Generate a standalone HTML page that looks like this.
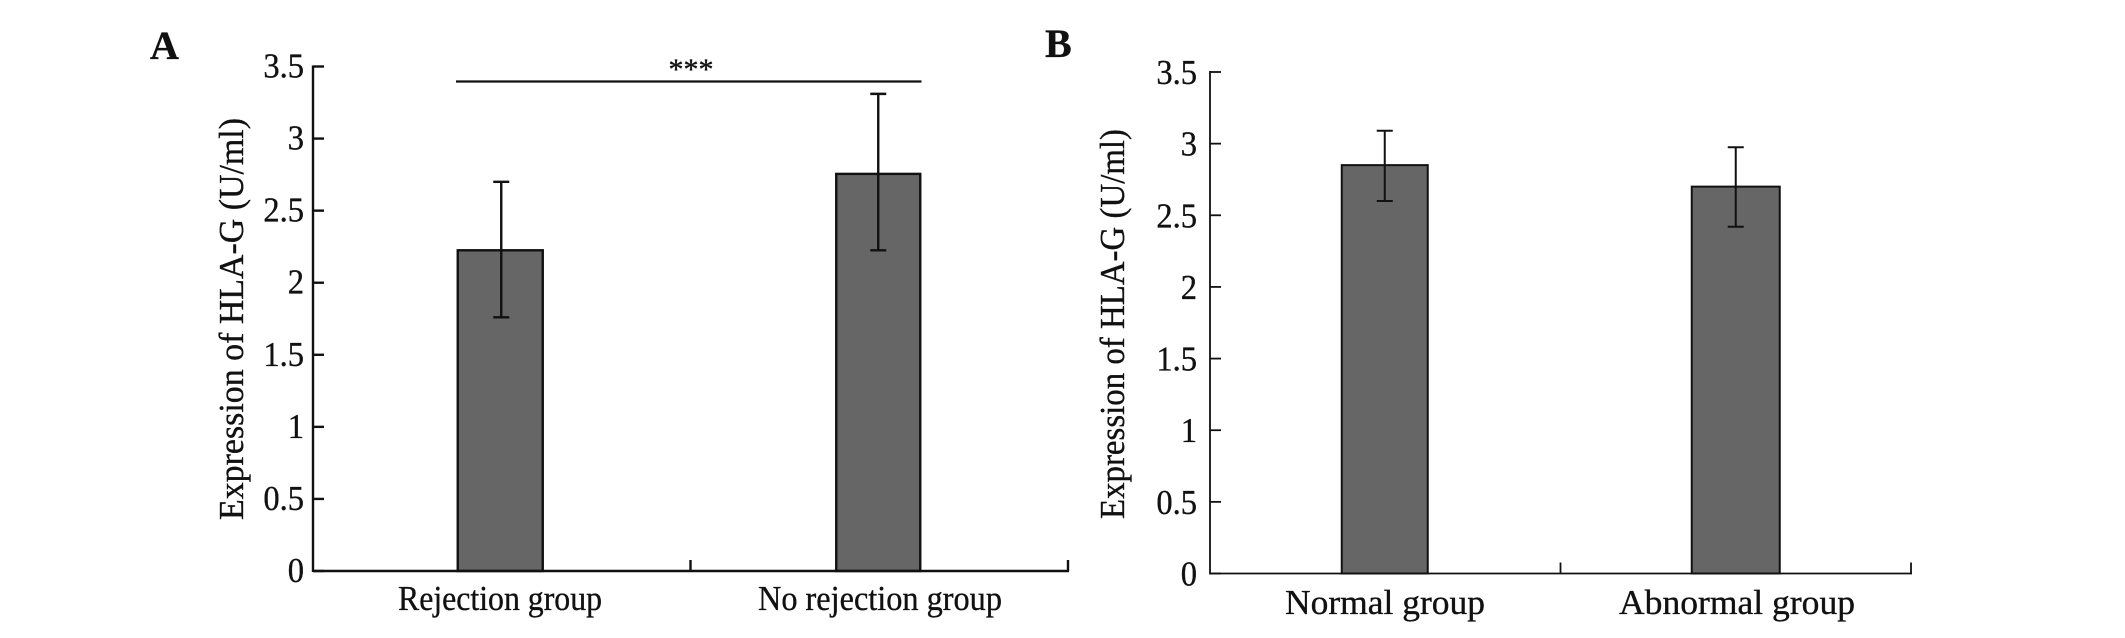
<!DOCTYPE html>
<html lang="en">
<head>
<meta charset="utf-8">
<title>Expression of HLA-G</title>
<style>
html,body{margin:0;padding:0;background:#fff;width:2125px;height:638px;overflow:hidden}
svg{display:block}
text{font-family:"Liberation Serif",serif;fill:#111;stroke:#111;stroke-width:0.35px}
</style>
</head>
<body>
<svg id="chart" xmlns="http://www.w3.org/2000/svg" width="2125" height="638" viewBox="0 0 2125 638"></svg>
<script>
const yTickLabels = ["0", "0.5", "1", "1.5", "2", "2.5", "3", "3.5"];
const yTickValues = [0, 0.5, 1, 1.5, 2, 2.5, 3, 3.5];
const categoriesA = ["Rejection group", "No rejection group"];
const meansA = [2.225, 2.755];
const errorUpperA = [2.70, 3.31];
const errorLowerA = [1.76, 2.225];
const categoriesB = ["Normal group", "Abnormal group"];
const meansB = [2.85, 2.70];
const errorUpperB = [3.09, 2.975];
const errorLowerB = [2.60, 2.42];

const svg = document.getElementById('chart');
const NS = 'http://www.w3.org/2000/svg';

function make(parent, tag, attrs, name) {
  const el = document.createElementNS(NS, tag);
  for (const k in attrs) el.setAttribute(k, attrs[k]);
  
  
  parent.appendChild(el);
  return el;
}

function drawPanel(cfg) {
  const g = make(svg, 'g', {}, 'panel-' + cfg.id);
  const yScale = v => cfg.y0 + (cfg.y35 - cfg.y0) * v / 3.5;
  const band = (cfg.x1 - cfg.x0) / cfg.categories.length;
  const xCenter = i => cfg.x0 + band * (i + 0.5);
  const ink = '#111';

  // bars
  cfg.categories.forEach((c, i) => {
    const cx = xCenter(i) + cfg.barOffset[i];
    make(g, 'rect', {
      x: cx - cfg.barW[i] / 2, y: yScale(cfg.means[i]),
      width: cfg.barW[i], height: yScale(0) - yScale(cfg.means[i]),
      fill: '#666', stroke: ink, 'stroke-width': cfg.barStroke
    }, 'bar-' + c.toLowerCase().replace(/ /g, '-'));
  });

  // error bars
  cfg.categories.forEach((c, i) => {
    const cx = xCenter(i) + cfg.barOffset[i] + cfg.errOffset[i];
    const hi = yScale(cfg.upper[i]), lo = yScale(cfg.lower[i]);
    const d = `M${cx} ${hi}V${lo}M${cx - 8} ${hi}H${cx + 8}M${cx - 8} ${lo}H${cx + 8}`;
    make(g, 'path', {d: d, fill: 'none', stroke: ink, 'stroke-width': cfg.errW}, 
      'error-bar-' + c.toLowerCase().replace(/ /g, '-'));
  });

  // axes
  make(g, 'line', {x1: cfg.x0, x2: cfg.x0, y1: yScale(3.5) - 1, y2: yScale(0) + 1, stroke: ink, 'stroke-width': cfg.axisW}, 'y-axis-line');
  make(g, 'line', {x1: cfg.x0, x2: cfg.x1 + 1, y1: yScale(0), y2: yScale(0), stroke: ink, 'stroke-width': cfg.axisW}, 'x-axis-line');

  // y ticks
  yTickValues.forEach((v, i) => {
    make(g, 'line', {x1: cfg.x0, x2: cfg.x0 + 11, y1: yScale(v), y2: yScale(v), stroke: ink, 'stroke-width': cfg.axisW}, 'y-tick-' + yTickLabels[i]);
    const t = make(g, 'text', {
      transform: `translate(${cfg.x0 - cfg.labelGap} ${yScale(v) + cfg.labelDy}) scale(0.93 1)`,
      'text-anchor': 'end', 'font-size': 35
    }, 'y-tick-label-' + yTickLabels[i]);
    t.textContent = yTickLabels[i];
  });

  // x ticks
  cfg.categories.forEach((c, i) => {
    const x = cfg.x0 + band * (i + 1);
    make(g, 'line', {x1: x, x2: x, y1: yScale(0), y2: yScale(0) - 11, stroke: ink, 'stroke-width': cfg.axisW}, 'x-tick-' + (i + 1));
  });

  // x labels
  cfg.categories.forEach((c, i) => {
    const t = make(g, 'text', {
      x: cfg.labelX[i], y: cfg.labelY, 'text-anchor': 'middle', 'font-size': 35,
      textLength: cfg.labelW[i], lengthAdjust: 'spacingAndGlyphs'
    }, 'x-label-' + c.toLowerCase().replace(/ /g, '-'));
    t.textContent = c;
  });

  // y title
  const yt = make(g, 'text', {
    transform: `translate(${cfg.titleX} ${cfg.titleYC}) rotate(-90)`,
    'text-anchor': 'middle', 'font-size': 35,
    textLength: cfg.titleLen, lengthAdjust: 'spacingAndGlyphs'
  }, 'y-axis-title');
  yt.textContent = 'Expression of HLA-G (U/ml)';

  // panel letter
  const pl = make(g, 'text', {x: cfg.letterX, y: cfg.letterY, 'font-size': 40, 'font-weight': 'bold'}, 'panel-label-' + cfg.id);
  pl.textContent = cfg.id;

  return yScale;
}

drawPanel({
  id: 'A', x0: 313, x1: 1068, y0: 571, y35: 66.5,
  categories: categoriesA, means: meansA, upper: errorUpperA, lower: errorLowerA,
  barW: [85, 84], barStroke: 2.4, axisW: 2.4, errW: 2.4, barOffset: [-1.5, -1], errOffset: [1, 0],
  labelGap: 9, labelDy: 11, labelX: [500, 880], labelY: 610, labelW: [204, 244],
  titleX: 243, titleYC: 319, titleLen: 402, letterX: 150, letterY: 59
});

drawPanel({
  id: 'B', x0: 1210, x1: 1911, y0: 573.5, y35: 72,
  categories: categoriesB, means: meansB, upper: errorUpperB, lower: errorLowerB,
  barW: [86, 88], barStroke: 2, axisW: 1.8, errW: 2, barOffset: [-0.5, 0], errOffset: [0, 0],
  labelGap: 13, labelDy: 12, labelX: [1385, 1737], labelY: 614, labelW: [200, 236],
  titleX: 1124, titleYC: 324, titleLen: 390, letterX: 1045, letterY: 57
});

// significance bracket (panel A)
const sig = make(svg, 'g', {}, 'significance-marker');
make(sig, 'line', {x1: 456, x2: 921.5, y1: 81.5, y2: 81.5, stroke: '#111', 'stroke-width': 2.2}, 'significance-line');
const stars = make(sig, 'text', {x: 691, y: 79, 'text-anchor': 'middle', 'font-size': 30}, 'significance-stars');
stars.textContent = '***';
</script>
</body>
</html>
